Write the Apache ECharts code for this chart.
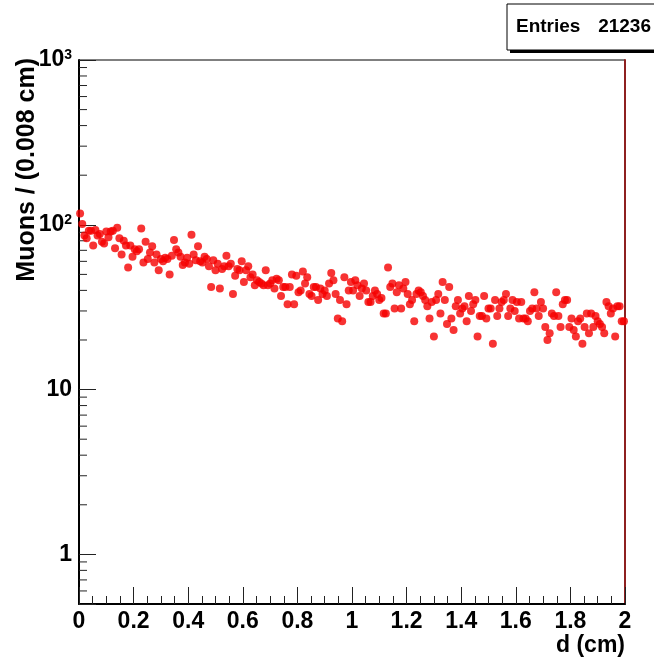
<!DOCTYPE html>
<html>
<head>
<meta charset="utf-8">
<script src="https://cdn.jsdelivr.net/npm/echarts@6/dist/echarts.min.js"></script>
<style>
  html, body { margin: 0; padding: 0; background: #fff; }
  #chart { width: 654px; height: 663px; }
</style>
</head>
<body>
<div id="chart"></div>
<script>
// Histogram: 250 bins of 0.008 cm between 0 and 2 cm
const binWidth = 0.008;
const counts = [
  117,101,86,83,92,92,75,93,86,88,79,77,91,84,91,92,72,96,83,66,
  80,75,55,75,64,71,69,71,95,59,79,62,68,74,59,66,53,62,60,63,
  62,50,65,81,71,68,64,57,59,63,58,87,66,61,74,60,59,64,62,56,
  42,61,53,58,41,54,56,65,56,58,38,49,54,53,60,45,53,56,48,50,
  43,46,45,44,43,53,43,44,46,41,47,46,37,42,42,33,42,50,33,49,
  39,40,52,44,48,38,37,42,42,35,41,38,40,37,44,51,46,38,27,35,
  26,48,33,40,45,40,46,43,37,41,44,40,34,34,37,40,38,35,36,29,
  29,55,42,44,31,39,43,31,41,45,38,33,35,26,38,40,39,37,35,32,
  27,34,21,35,38,29,45,35,25,42,27,23,32,35,29,31,32,26,37,30,
  33,35,21,28,28,37,27,31,31,19,35,28,31,34,35,38,28,31,35,30,
  34,27,34,27,27,26,30,31,39,31,28,34,31,24,20,22,29,28,39,28,
  24,33,35,35,24,27,23,21,26,27,19,24,29,22,29,24,28,26,25,24,
  22,34,32,29,31,21,32,32,26,26
];
const xTickValues = [0, 0.2, 0.4, 0.6, 0.8, 1, 1.2, 1.4, 1.6, 1.8, 2];
const yMajorLabels = { 1: '1', 10: '10', 100: '{b|10}{s|2}', 1000: '{b|10}{s|3}' };
const yMinorTicks = [0.6, 0.7, 0.8, 0.9, 2, 3, 4, 5, 6, 7, 8, 9,
  20, 30, 40, 50, 60, 70, 80, 90, 200, 300, 400, 500, 600, 700, 800, 900];
const entriesLabel = 'Entries';
const entriesValue = '21236';
const xTitle = 'd (cm)';
const yTitle = 'Muons / (0.008 cm)';

const points = counts.map((c, i) => [binWidth * (i + 0.5), c]);

const FONT = '"Liberation Sans", Arial, Helvetica, sans-serif';
const chart = echarts.init(document.getElementById('chart'), null, { renderer: 'canvas' });

chart.setOption({
  animation: false,
  backgroundColor: '#fff',
  grid: {
    left: 79, top: 60, right: 29, bottom: 59,
    show: true, borderColor: '#000', borderWidth: 1, backgroundColor: 'transparent'
  },
  xAxis: {
    type: 'value', min: 0, max: 2, interval: 0.2,
    axisLine: { show: true, onZero: false, lineStyle: { color: '#000', width: 2 } },
    axisTick: { show: true, inside: true, length: 17, lineStyle: { color: '#222', width: 1 } },
    minorTick: { show: true, splitNumber: 4, length: 8, lineStyle: { color: '#222', width: 1 } },
    splitLine: { show: false },
    axisLabel: {
      margin: 6, color: '#000', fontFamily: FONT, fontWeight: 'bold', fontSize: 23,
      formatter: v => {
        const m = xTickValues.find(t => Math.abs(t - v) < 1e-9);
        return m === undefined ? '' : String(m);
      }
    }
  },
  yAxis: [{
    type: 'log', logBase: 10, min: 0.5, max: 1000,
    axisLine: { show: true, lineStyle: { color: '#000', width: 2 } },
    axisTick: { show: true, inside: true, length: 17, lineStyle: { color: '#222', width: 1 } },
    splitLine: { show: false },
    axisLabel: {
      margin: 7, color: '#000', fontFamily: FONT, fontWeight: 'bold', fontSize: 23,
      showMinLabel: true, showMaxLabel: true,
      formatter: v => {
        for (const k in yMajorLabels) {
          if (Math.abs(Number(k) - v) / Number(k) < 1e-6) return yMajorLabels[k];
        }
        return '';
      },
      rich: {
        b: { fontFamily: FONT, fontWeight: 'bold', fontSize: 23, lineHeight: 23, color: '#000' },
        s: { fontFamily: FONT, fontWeight: 'bold', fontSize: 14, lineHeight: 14, verticalAlign: 'top', color: '#000' }
      }
    }
  }, {
    type: 'log', logBase: 10, min: 0.5, max: 1000, position: 'right',
    axisLine: { show: true, lineStyle: { color: '#8e2020', width: 2 } },
    axisTick: { show: false }, axisLabel: { show: false }, splitLine: { show: false }
  }],
  series: [{
    type: 'scatter',
    data: points,
    symbol: 'circle',
    symbolSize: 8,
    itemStyle: { color: '#f50000' },
    emphasis: { disabled: true },
    z: 5
  }, {
    type: 'custom',
    silent: true,
    clip: false,
    data: yMinorTicks.map(v => [0, v]),
    renderItem: (params, api) => {
      const p = api.coord([0, api.value(1)]);
      return {
        type: 'line',
        shape: { x1: p[0], y1: p[1], x2: p[0] + 8, y2: p[1] },
        style: { stroke: '#222', lineWidth: 1 }
      };
    },
    z: 3
  }],
  graphic: [
    { type: 'rect', shape: { x: 510, y: 7, width: 160, height: 46 }, style: { fill: '#000' }, z: 10 },
    { type: 'rect', shape: { x: 507, y: 4, width: 160, height: 46 }, style: { fill: '#fff', stroke: '#000', lineWidth: 1 }, z: 11 },
    { type: 'text', x: 516, y: 27, z: 12,
      style: { text: entriesLabel, fontFamily: FONT, fontWeight: 'bold', fontSize: 19, fill: '#000', verticalAlign: 'middle', align: 'left' } },
    { type: 'text', x: 651, y: 27, z: 12,
      style: { text: entriesValue, fontFamily: FONT, fontWeight: 'bold', fontSize: 19, fill: '#000', verticalAlign: 'middle', align: 'right' } },
    { type: 'text', x: 625, y: 646, z: 12,
      style: { text: xTitle, fontFamily: FONT, fontWeight: 'bold', fontSize: 23, fill: '#000', verticalAlign: 'middle', align: 'right' } },
    { type: 'text', x: 27, y: 58, rotation: Math.PI / 2, z: 12,
      style: { text: yTitle, fontFamily: FONT, fontWeight: 'bold', fontSize: 25, fill: '#000', verticalAlign: 'middle', align: 'right' } }
  ]
});
</script>
</body>
</html>
